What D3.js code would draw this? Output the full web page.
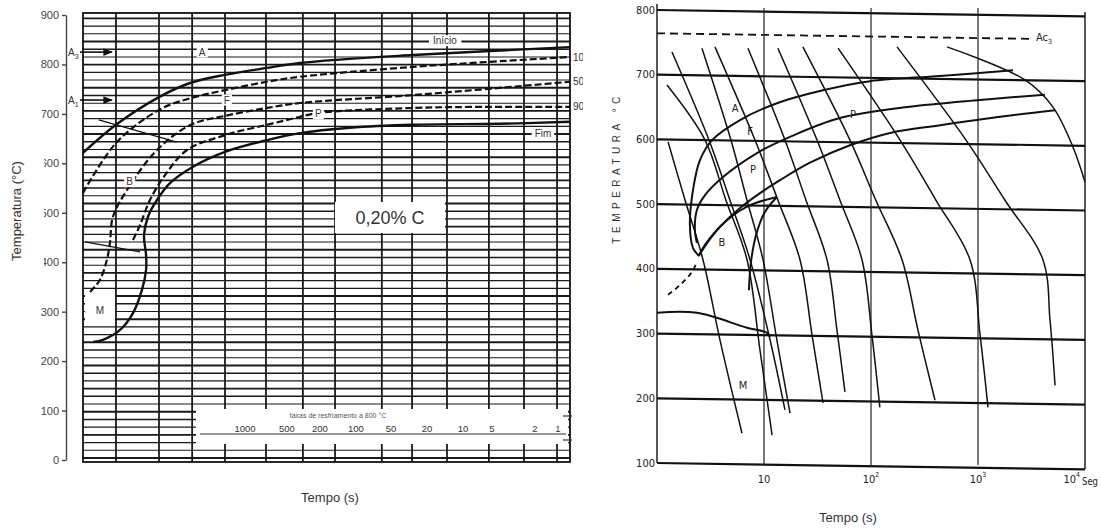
<!DOCTYPE html>
<html><head><meta charset="utf-8">
<script src="https://cdn.jsdelivr.net/npm/d3@7"></script>
<style>
html,body{margin:0;padding:0;background:#fff;}
svg{display:block;}
</style></head>
<body>
<svg id="chart" width="1101" height="528"></svg>
<script>
// ================= Diagrama TRC – aço 0,20% C =================
const leftTempTicks = [0,100,200,300,400,500,600,700,800,900];
const leftGridTimes = [2.18,6.03,13.2,28.7,75.6,181,387,1170,2390,5460,14700,33700,73600];
const coolingRateLabels = ["1000","500","200","100","50","20","10","5","2","1"];
const coolingRatePos = [46,124,271,635,1453,3404,7960,15800,43700,75300];
const criticalTemps = [{sub:"3", T:825},{sub:"1", T:728}];

const curvaInicio = [[1,621],[2.18,678],[6.03,734],[12.8,763],[28.7,779],[77.5,793],[169,803],[2444,819],[1e5,835]];
const curva10 = [[1,540],[2.18,641],[6.03,708],[12.8,732],[28.7,748],[77.5,765],[169,775],[2444,795],[1e5,815]];
const curva50 = [[1.18,340],[1.49,364],[1.76,405],[1.89,439],[2.03,492],[2.83,546],[5.75,627],[12.8,678],[28.7,696],[77.5,712],[169,722],[2444,738],[1e5,765]];
const curva90 = [[3.26,445],[3.85,475],[4.87,526],[6.95,576],[11.7,627],[28.7,657],[77.5,678],[169,694],[259,702],[2444,712],[9400,714],[1e5,714]];
const curvaFim = [[1e5,684],[19100,680],[2444,678],[551,672],[169,661],[77.5,647],[28.7,623],[13.5,593],[7.82,560],[5.75,526],[4.65,492],[4.23,455],[4.44,415],[4.44,384],[4.03,344],[3.26,297],[2.4,263],[1.6,243],[1.27,239]];
const linhaFerrita = [[1.45,688],[9.2,643]];
const linhaMs = [[1.05,441],[3.85,421]];
const endLabels = [{txt:"10", T:815},{txt:"50", T:765},{txt:"90", T:714}];

// ================= Diagrama TRC – segundo aço =================
const rightTempTicks = [100,200,300,400,500,600,700,800];
const rightTimeTicks = [10,100,1000,10000];
const rightTimeExp = ["","2","3","4"];
const resfriamento = [
  [[1.27,596],[1.83,506],[2.69,414],[3.88,290],[6.23,146]],
  [[1.24,684],[2.81,599],[4.41,506],[6.94,414],[9.18,274],[11.9,143]],
  [[1.38,735],[3.06,599],[4.81,506],[7.4,414],[11.4,290],[15.7,182]],
  [[2.63,741],[4.91,599],[6.94,506],[9.79,414],[13.2,290],[17.5,177]],
  [[3.48,743],[8.24,599],[13.5,506],[21.7,414],[28.1,298],[35.6,193]],
  [[7.08,741],[15.7,599],[24.7,506],[38.8,414],[48.1,305],[57.1,210]],
  [[13.5,741],[31.3,599],[51.3,506],[82.4,414],[102,298],[121,186]],
  [[23.1,743],[63.6,599],[111,506],[195,414],[275,305],[396,197]],
  [[49.2,741],[187,599],[405,506],[842,414],[1045,298],[1240,186]],
  [[175,743],[773,599],[1787,506],[4050,414],[4710,321],[5250,220]],
  [[513,743],[2750,692],[5020,650],[7730,588],[10000,534]]
];
const inicioFerrita = [[2124,707],[442,698],[97.9,690],[35.6,676],[13.2,656],[5.97,630],[3.27,599],[2.52,568],[2.17,522],[2.03,468],[2.17,432],[2.47,420]];
const inicioPerlita = [[4230,669],[1045,661],[217,650],[51.3,633],[17.5,604],[8.6,579],[4.14,542],[2.81,514],[2.36,491],[2.26,460],[2.36,440]];
const fimTransf = [[5250,645],[1607,635],[442,622],[151,610],[63.6,591],[26.9,564],[14.1,537],[9.18,517],[5.97,494],[3.88,465],[2.81,437],[2.45,420]];
const bainitaInicio = [[2.45,420],[3.88,465],[6.94,496],[13.2,511]];
const bainitaFim = [[13.2,511],[10.2,488],[8.42,452],[7.56,411],[7.23,367]];
const msDireita = [[1,332],[2.36,332],[6.94,309],[10.7,301],[11.4,295]];
const narizTracejado = [[1.27,360],[1.64,375],[2.12,395],[2.36,411]];
const ac3 = [[1,764],[3060,764]];
const regiaoLabels = [{txt:"A",t:5.36,T:648},{txt:"F",t:7.4,T:613},{txt:"P",t:7.9,T:553},{txt:"B",t:4.05,T:440},{txt:"M",t:6.37,T:220},{txt:"P",t:67.9,T:638}];

const svg = d3.select("#chart");
const ink = "#111";
const sans = "Liberation Sans, Arial, sans-serif";

// ---------------- painel esquerdo ----------------
const xL = d3.scaleLog().domain([1,1e5]).range([83,570]);
const yL = d3.scaleLinear().domain([0,900]).range([460,15]);

svg.append("clipPath").attr("id","clipL").append("rect").attr("x",0).attr("y",0).attr("width",583).attr("height",528);
const gL = svg.append("g").attr("clip-path","url(#clipL)");

// papel milimetrado: linhas horizontais densas
const hGrid = d3.range(4, 900, 15.6);
gL.append("g").selectAll("line").data(hGrid).join("line")
  .attr("x1",83).attr("x2",570)
  .attr("y1",d=>yL(d)).attr("y2",d=>yL(d))
  .attr("stroke","#1a1a1a")
  .attr("stroke-width",(d,i)=> i%3===0 ? 1.9 : (i%3===1 ? 1.1 : 1.4));
gL.append("g").selectAll("line").data(leftGridTimes).join("line")
  .attr("x1",d=>xL(d)).attr("x2",d=>xL(d))
  .attr("y1",13).attr("y2",462)
  .attr("stroke","#1a1a1a").attr("stroke-width",1.8);
gL.append("rect").attr("x",83).attr("y",13).attr("width",487).attr("height",449)
  .attr("fill","none").attr("stroke",ink).attr("stroke-width",1.8);

const lineL = d3.line().x(d=>xL(d[0])).y(d=>yL(d[1])).curve(d3.curveCatmullRom.alpha(0.5));
gL.append("g").selectAll("path").data([curvaInicio, curvaFim]).join("path")
  .attr("d",lineL).attr("fill","none").attr("stroke",ink).attr("stroke-width",2.4);
gL.append("g").selectAll("path").data([curva10, curva50, curva90]).join("path")
  .attr("d",lineL).attr("fill","none").attr("stroke",ink).attr("stroke-width",2.2)
  .attr("stroke-dasharray","7,3");
gL.append("g").selectAll("path").data([linhaFerrita, linhaMs]).join("path")
  .attr("d",lineL).attr("fill","none").attr("stroke",ink).attr("stroke-width",1.2);

// rótulos com fundo branco
function boxLabel(g, x, y, txt, size, padX, padY) {
  const t = g.append("text").attr("x",x).attr("y",y).attr("text-anchor","middle")
    .attr("dominant-baseline","central")
    .attr("font-family",sans).attr("font-size",size)
    .attr("fill","#333").text(txt);
  const bb = t.node().getBBox();
  g.insert("rect", () => t.node())
    .attr("x",bb.x-padX).attr("y",bb.y-padY).attr("width",bb.width+2*padX).attr("height",bb.height+2*padY)
    .attr("fill","#fff");
  return t;
}
const lblL = gL.append("g");
boxLabel(lblL, xL(16.7), yL(825), "A", 10, 2, 0);
boxLabel(lblL, xL(30), yL(728), "F", 10, 2, 0);
boxLabel(lblL, xL(3.0), yL(563), "B", 10, 2, 0);
boxLabel(lblL, xL(260), yL(700), "P", 10, 2, 0);
boxLabel(lblL, xL(5200), yL(848), "Início", 10, 4, 0);
boxLabel(lblL, xL(52800), yL(661), "Fim", 10, 3, 0);
// caixa do M
lblL.append("rect").attr("x",85).attr("y",294).attr("width",30).attr("height",30).attr("fill","#fff");
lblL.append("text").attr("x",100).attr("y",310).attr("text-anchor","middle").attr("dominant-baseline","central")
  .attr("font-family",sans).attr("font-size",10).attr("fill","#333").text("M");
// caixa 0,20% C
lblL.append("rect").attr("x",335).attr("y",202).attr("width",110).attr("height",31).attr("fill","#fff");
lblL.append("text").attr("x",390).attr("y",218).attr("text-anchor","middle").attr("dominant-baseline","central")
  .attr("font-family",sans).attr("font-size",18).attr("fill","#333").text("0,20% C");

// rótulos de fração transformada à direita
lblL.selectAll("text.end").data(endLabels).join("text").attr("class","end")
  .attr("x",573).attr("y",d=>yL(d.T)).attr("dominant-baseline","central")
  .attr("font-family",sans).attr("font-size",10).attr("fill","#333").text(d=>d.txt);

// setas A3 / A1
svg.append("defs").append("marker").attr("id","arr").attr("viewBox","0 0 10 10")
  .attr("refX",9).attr("refY",5).attr("markerWidth",6).attr("markerHeight",6).attr("orient","auto")
  .append("path").attr("d","M0,1 L10,5 L0,9 z").attr("fill",ink);
const crit = gL.append("g").selectAll("g").data(criticalTemps).join("g");
crit.append("line").attr("x1",80).attr("x2",112).attr("y1",d=>yL(d.T)).attr("y2",d=>yL(d.T))
  .attr("stroke",ink).attr("stroke-width",1.6).attr("marker-end","url(#arr)");
const critT = crit.append("text").attr("x",68).attr("y",d=>yL(d.T)+4)
  .attr("font-family",sans).attr("font-size",10).attr("fill","#333");
critT.append("tspan").text("A");
critT.append("tspan").attr("font-size",7).attr("dy",3).text(d=>d.sub);

// quadro das taxas de resfriamento
const rateG = gL.append("g");
rateG.append("rect").attr("x",196).attr("y",409).attr("width",372).attr("height",35).attr("fill","#fff");
rateG.append("text").attr("x",338).attr("y",415).attr("text-anchor","middle").attr("dominant-baseline","central")
  .attr("font-family",sans).attr("font-size",7).attr("fill","#555")
  .text("taxas de resfriamento a 800 °C");
rateG.append("line").attr("x1",200).attr("x2",566).attr("y1",434).attr("y2",434).attr("stroke","#333").attr("stroke-width",1.2);
rateG.selectAll("text.rate").data(coolingRateLabels).join("text").attr("class","rate")
  .attr("x",(d,i)=>xL(coolingRatePos[i])).attr("y",428).attr("text-anchor","middle").attr("dominant-baseline","central")
  .attr("font-family",sans).attr("font-size",9.5).attr("fill","#333").text(d=>d);
rateG.selectAll("line.tk").data([416,440]).join("line").attr("class","tk")
  .attr("x1",563).attr("x2",572).attr("y1",d=>d).attr("y2",d=>d).attr("stroke","#333").attr("stroke-width",1.2);

// eixo de temperatura
const axL = svg.append("g").attr("transform","translate(66,0)")
  .call(d3.axisLeft(yL).tickValues(leftTempTicks).tickSize(4).tickSizeOuter(0));
axL.select(".domain").attr("stroke","#444").attr("stroke-width",1.4);
axL.selectAll(".tick line").attr("stroke","#444").attr("stroke-width",1.4);
axL.selectAll(".tick text").attr("font-family",sans).attr("font-size",11).attr("fill","#444");

// título do eixo y (fundo branco sobre os números)
svg.append("rect").attr("x",0).attr("y",148).attr("width",44).attr("height",128).attr("fill","#fff");
svg.append("text").attr("transform","translate(21,211) rotate(-90)").attr("text-anchor","middle")
  .attr("font-family",sans).attr("font-size",13).attr("fill","#333")
  .text("Temperatura (°C)");
svg.append("text").attr("x",330).attr("y",502).attr("text-anchor","middle")
  .attr("font-family",sans).attr("font-size",13).attr("fill","#333")
  .text("Tempo (s)");

// ---------------- painel direito ----------------
const xR = d3.scaleLog().domain([1,1e4]).range([657,1085]);
const yR = d3.scaleLinear().domain([100,800]).range([463,10]);
const gR = svg.append("g");
const narrow = "Liberation Sans Narrow, DejaVu Sans Condensed, sans-serif";
// leve inclinação das linhas horizontais do papel
const gTilt = gR.append("g").attr("transform","translate(657,0) skewY(0.85) translate(-657,0)");

gTilt.append("g").selectAll("line").data(rightTempTicks).join("line")
  .attr("x1",657).attr("x2",1085).attr("y1",d=>yR(d)).attr("y2",d=>yR(d))
  .attr("stroke",ink).attr("stroke-width",2.2);
gR.append("g").selectAll("line").data(rightTimeTicks.slice(0,3)).join("line")
  .attr("x1",d=>xR(d)).attr("x2",d=>xR(d)).attr("y1",8).attr("y2",465)
  .attr("stroke","#222").attr("stroke-width",1.2);
gR.append("line").attr("x1",657).attr("x2",657).attr("y1",4).attr("y2",463).attr("stroke",ink).attr("stroke-width",1.4);
gR.append("line").attr("x1",1085).attr("x2",1085).attr("y1",12).attr("y2",469).attr("stroke",ink).attr("stroke-width",1.4);

const lineR = d3.line().x(d=>xR(d[0])).y(d=>yR(d[1])).curve(d3.curveCatmullRom.alpha(0.5));
gTilt.append("path").attr("d",lineR(ac3)).attr("fill","none").attr("stroke",ink).attr("stroke-width",1.8).attr("stroke-dasharray","8,5");
gR.append("g").selectAll("path").data(resfriamento).join("path")
  .attr("d",lineR).attr("fill","none").attr("stroke",ink).attr("stroke-width",1.5);
gR.append("g").selectAll("path").data([inicioFerrita, inicioPerlita, fimTransf, bainitaInicio, bainitaFim, msDireita]).join("path")
  .attr("d",lineR).attr("fill","none").attr("stroke",ink).attr("stroke-width",2);
gR.append("path").attr("d",lineR(narizTracejado)).attr("fill","none").attr("stroke",ink).attr("stroke-width",1.8).attr("stroke-dasharray","5,4");

gR.selectAll("text.reg").data(regiaoLabels).join("text").attr("class","reg")
  .attr("x",d=>xR(d.t)).attr("y",d=>yR(d.T)).attr("text-anchor","middle").attr("dominant-baseline","central")
  .attr("font-family",narrow).attr("font-size",11).attr("fill","#222").text(d=>d.txt);
const acT = gR.append("text").attr("x",1036).attr("y",yR(764)+8).attr("font-family",narrow).attr("font-size",11).attr("fill","#222");
acT.append("tspan").text("Ac");
acT.append("tspan").attr("font-size",7).attr("dy",3).text("3");

gR.selectAll("text.yt").data(rightTempTicks).join("text").attr("class","yt")
  .attr("x",655).attr("y",d=>yR(d)).attr("text-anchor","end").attr("dominant-baseline","central")
  .attr("font-family",narrow).attr("font-size",11).attr("fill","#222").text(d=>d);
const xt = gR.selectAll("text.xt").data(rightTimeTicks).join("text").attr("class","xt")
  .attr("x",(d,i)=> i===3 ? xR(d)-5 : xR(d)).attr("y",479).attr("text-anchor",(d,i)=> i===3 ? "end":"middle").attr("dominant-baseline","central")
  .attr("font-family",narrow).attr("font-size",11).attr("fill","#222");
xt.append("tspan").text("10");
xt.append("tspan").attr("font-size",7).attr("dy",-4).text((d,i)=>rightTimeExp[i]);
gR.append("text").attr("x",1082).attr("y",481).attr("dominant-baseline","central")
  .attr("font-family",narrow).attr("font-size",11).attr("fill","#222")
  .attr("textLength",16).attr("lengthAdjust","spacingAndGlyphs").text("Seg");

svg.append("text").attr("transform","translate(620,168) rotate(-90)").attr("text-anchor","middle")
  .attr("font-family",sans).attr("font-size",10).attr("letter-spacing",4.5)
  .attr("fill","#333").text("TEMPERATURA °C");
svg.append("text").attr("x",848).attr("y",522).attr("text-anchor","middle")
  .attr("font-family",sans).attr("font-size",13).attr("fill","#333")
  .text("Tempo (s)");
</script>
</body></html>
